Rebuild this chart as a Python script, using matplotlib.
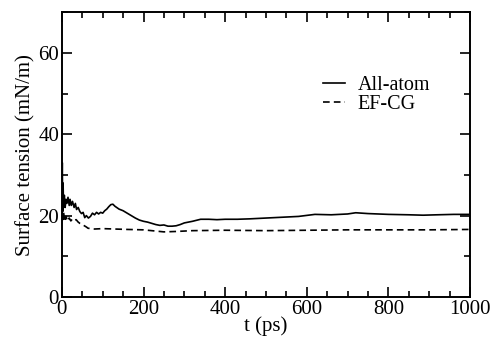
import numpy as np
import matplotlib.pyplot as plt
from matplotlib.ticker import MultipleLocator

# All-atom surface tension (mN/m) vs time (ps)
t_aa = [0, 1, 2, 3, 4, 6, 8, 10, 12, 15, 18, 20, 23, 26, 30, 33, 36, 40, 44, 48, 52,
        56, 60, 65, 70, 75, 80, 85, 90, 95, 100, 105, 110, 115, 120, 125, 130, 140,
        150, 160, 170, 180, 190, 200, 210, 220, 230, 240, 250, 260, 270, 280, 290,
        300, 320, 340, 360, 380, 400, 430, 460, 500, 540, 580, 620, 660, 700, 720,
        750, 800, 850, 885, 920, 960, 1000]
g_aa = [24, 33, 21, 28, 22, 25, 22, 24, 23, 24.5, 22.5, 24, 22.5, 23.5, 22, 23, 21.5,
        22, 21, 20.5, 20.8, 19.5, 20, 19.4, 19.8, 20.6, 20.2, 20.8, 20.4, 20.8, 20.6,
        21.2, 21.6, 22.2, 22.7, 22.8, 22.3, 21.6, 21.2, 20.6, 20, 19.4, 18.9, 18.6,
        18.4, 18.1, 17.8, 17.6, 17.7, 17.4, 17.4, 17.5, 17.8, 18.2, 18.6, 19.1, 19.1,
        19.0, 19.1, 19.1, 19.2, 19.4, 19.6, 19.8, 20.3, 20.2, 20.4, 20.7, 20.5, 20.3,
        20.2, 20.1, 20.2, 20.3, 20.3]

# EF-CG surface tension
t_cg = [0, 2, 4, 7, 10, 14, 18, 22, 26, 30, 35, 40, 44, 50, 55, 60, 64, 70, 80, 100,
        130, 160, 200, 250, 280, 320, 400, 500, 600, 700, 800, 900, 1000]
g_cg = [22, 19, 21, 18.5, 19.8, 18.6, 19.4, 18.7, 19.2, 18.8, 19.0, 18.4, 18.1, 17.9,
        17.5, 17.2, 16.9, 16.8, 16.7, 16.8, 16.7, 16.6, 16.5, 16.0, 16.1, 16.3, 16.4,
        16.3, 16.4, 16.5, 16.5, 16.5, 16.6]

plt.rcParams['font.family'] = ['Liberation Serif', 'DejaVu Serif']
plt.rcParams['mathtext.fontset'] = 'stix'

fig = plt.figure(figsize=(4.95, 3.39), dpi=100)
ax = fig.add_axes([0.125, 0.124, 0.8245, 0.84])

ax.plot(t_aa, g_aa, color='black', lw=1.2, label='All-atom')
ax.plot(t_cg, g_cg, color='black', lw=1.2, ls=(0, (4, 2.5)), label='EF-CG')

ax.set_xlim(0, 1000)
ax.set_ylim(0, 70)
ax.xaxis.set_major_locator(MultipleLocator(200))
ax.xaxis.set_minor_locator(MultipleLocator(50))
ax.yaxis.set_major_locator(MultipleLocator(20))
ax.yaxis.set_minor_locator(MultipleLocator(10))
ax.tick_params(which='both', direction='in', top=True, right=True, labelsize=15, width=1.2)
ax.tick_params(which='major', length=7, pad=2)
ax.tick_params(which='minor', length=4)
for s in ax.spines.values():
    s.set_linewidth(1.4)

ax.set_xlabel('t (ps)', fontsize=15, labelpad=-2)
ax.set_ylabel('Surface tension (mN/m)', fontsize=15, labelpad=2)

ax.legend(loc='upper left', bbox_to_anchor=(0.64, 0.775), frameon=False, fontsize=14.5,
          handlelength=1.1, handletextpad=0.6, labelspacing=0.0, borderpad=0,
          borderaxespad=0)

fig.savefig('out.png', dpi=100)
